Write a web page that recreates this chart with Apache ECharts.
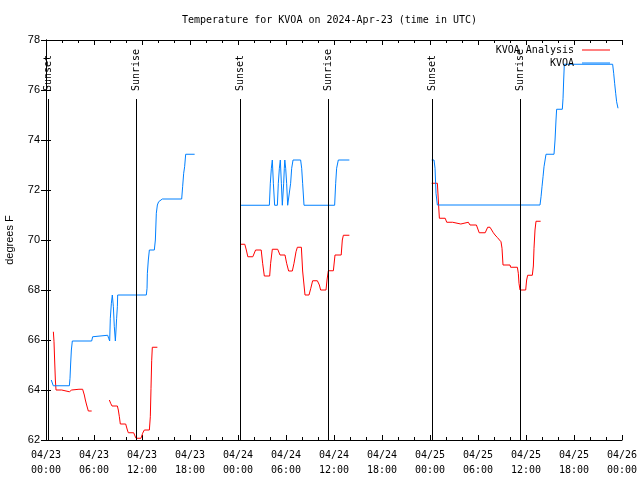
<!DOCTYPE html>
<html><head><meta charset="utf-8">
<script src="https://cdn.jsdelivr.net/npm/echarts@6/dist/echarts.min.js"></script>
<style>html,body{margin:0;padding:0;background:#fff}#c{width:640px;height:480px}</style>
</head><body><div id="c"></div>
<script>
// ---- data (hours since 04/23 00:00 UTC, temperature in F) ----
const tickDates = ['04/23','04/23','04/23','04/23','04/24','04/24','04/24','04/24','04/25','04/25','04/25','04/25','04/26'];
const tickTimes = ['00:00','06:00','12:00','18:00','00:00','06:00','12:00','18:00','00:00','06:00','12:00','18:00','00:00'];
const sunsetHours = [0.3, 24.33, 48.3];
const sunriseHours = [11.28, 35.27, 59.25];

const obsDay1 = [[0.66,64.4],[0.91,64.17],[2.92,64.17],[3.0,64.47],[3.08,65.04],[3.17,65.6],[3.29,65.96],[5.71,65.96],[5.83,66.13],[5.96,66.19],[7.71,66.19],[7.83,66.07],[7.96,65.96],[8.04,66.87],[8.17,67.47],[8.29,67.8],[8.42,67.33],[8.54,66.53],[8.67,65.96],[8.75,66.4],[8.83,66.87],[8.92,67.33],[8.96,67.8],[12.54,67.8],[12.63,68.07],[12.67,68.67],[12.79,69.2],[12.92,69.6],[13.54,69.6],[13.67,70.0],[13.79,71.07],[13.92,71.4],[14.08,71.53],[14.54,71.64],[16.96,71.64],[17.08,72.13],[17.21,72.67],[17.33,72.93],[17.46,73.43],[18.58,73.43]];
const obsDay2 = [[24.33,71.39],[27.92,71.39],[28.04,72.27],[28.17,72.87],[28.29,73.2],[28.42,72.27],[28.58,71.39],[28.92,71.39],[29.04,72.27],[29.17,72.87],[29.29,73.2],[29.42,72.27],[29.54,71.39],[29.6,71.39],[29.71,72.27],[29.79,72.87],[29.85,73.2],[29.96,72.87],[30.08,72.27],[30.21,71.39],[30.46,71.39],[30.58,72.27],[30.71,72.87],[30.88,73.2],[31.83,73.2],[31.96,72.87],[32.08,72.27],[32.25,71.39],[36.08,71.39],[36.21,72.27],[36.33,72.87],[36.54,73.2],[37.92,73.2]];
const obsDay3 = [[48.21,73.2],[48.5,73.2],[48.63,72.87],[48.75,71.87],[48.92,71.4],[61.75,71.4],[61.88,71.73],[62.0,72.13],[62.13,72.53],[62.25,72.93],[62.5,73.43],[63.5,73.43],[63.63,74.0],[63.75,74.8],[63.83,75.23],[64.54,75.23],[64.63,75.67],[64.71,76.4],[64.79,77.03],[70.83,77.03],[70.96,76.67],[71.08,76.27],[71.21,75.87],[71.33,75.53],[71.5,75.27]];

const anaDay1a = [[0.92,66.33],[1.0,65.93],[1.08,65.2],[1.17,64.4],[1.25,64.0],[1.96,64.0],[2.17,63.93],[2.92,63.93],[3.21,64.0],[4.12,64.03],[4.58,64.03],[4.79,63.8],[4.92,63.6],[5.08,63.4],[5.29,63.16],[5.71,63.16]];
const anaDay1b = [[7.92,63.6],[8.08,63.47],[8.25,63.36],[8.92,63.36],[9.04,63.2],[9.17,62.93],[9.29,62.64],[9.96,62.64],[10.17,62.4],[10.29,62.29],[10.96,62.29],[11.125,62.16],[11.25,62.07],[11.875,62.07],[12.08,62.27],[12.29,62.4],[12.92,62.4],[13.04,62.93],[13.125,64.07],[13.21,65.17],[13.29,65.71],[13.92,65.71]];
const anaDay2 = [[24.33,69.83],[24.85,69.83],[25.04,69.6],[25.23,69.33],[25.85,69.33],[26.2,69.6],[26.9,69.6],[27.08,69.07],[27.29,68.56],[27.96,68.56],[28.08,69.07],[28.29,69.63],[28.96,69.63],[29.25,69.4],[29.875,69.4],[30.08,69.07],[30.33,68.76],[30.79,68.76],[31.0,69.07],[31.25,69.53],[31.42,69.71],[31.92,69.71],[32.08,68.76],[32.25,68.2],[32.375,67.8],[32.875,67.8],[33.1,68.07],[33.33,68.37],[33.92,68.37],[34.17,68.2],[34.33,68.0],[35.0,68.0],[35.125,68.4],[35.29,68.77],[35.92,68.77],[36.125,69.4],[36.9,69.4],[37.04,70.0],[37.17,70.19],[37.92,70.19]];
const anaDay3 = [[48.21,72.27],[48.92,72.27],[49.04,71.6],[49.17,70.87],[49.9,70.87],[50.09,70.71],[50.83,70.71],[51.04,70.64],[51.85,70.64],[52.04,70.71],[52.79,70.71],[53.0,70.6],[53.8,70.6],[54.15,70.29],[54.9,70.29],[55.21,70.51],[55.5,70.51],[55.71,70.4],[55.92,70.29],[56.13,70.2],[56.42,70.1],[56.67,70.03],[56.875,69.93],[57.0,69.67],[57.125,69.0],[58.0,69.0],[58.08,68.91],[58.92,68.91],[59.04,68.67],[59.125,68.27],[59.25,68.0],[59.96,68.0],[60.08,68.4],[60.21,68.59],[60.79,68.59],[60.92,68.96],[61.0,69.67],[61.125,70.4],[61.25,70.75],[61.83,70.75]];

// ---- build ----
const mono = 'DejaVu Sans Mono';
const sans = 'Liberation Sans';
function joinWithGaps(parts){
  const out = [];
  parts.forEach((p, i) => {
    if (i > 0) out.push([(parts[i-1][parts[i-1].length-1][0] + p[0][0]) / 2, null]);
    p.forEach(d => out.push(d));
  });
  return out;
}
const obsData = joinWithGaps([obsDay1, obsDay2, obsDay3]);
const anaData = joinWithGaps([anaDay1a, anaDay1b, anaDay2, anaDay3]);

const sunLines = [];
const sunLabels = [];
sunsetHours.forEach(h => { sunLines.push([{coord:[h,62]},{coord:[h,75.64]}]); sunLabels.push({coord:[h,75.92], name:'Sunset'}); });
sunriseHours.forEach(h => { sunLines.push([{coord:[h,62]},{coord:[h,75.64]}]); sunLabels.push({coord:[h,75.92], name:'Sunrise'}); });

const black = '#000';
const xCommon = {
  type:'value', min:0, max:72, interval:6,
  axisLine:{show:true, lineStyle:{color:black, width:1}},
  axisTick:{show:true, inside:true, length:5, lineStyle:{color:black}},
  minorTick:{show:true, splitNumber:3, length:3, lineStyle:{color:black}},
  splitLine:{show:false}, minorSplitLine:{show:false}
};
const yCommon = {
  type:'value', min:62, max:78, interval:2,
  axisLine:{show:true, lineStyle:{color:black, width:1}},
  axisTick:{show:true, inside:true, length:5, lineStyle:{color:black}},
  splitLine:{show:false}
};

const chart = echarts.init(document.getElementById('c'), null, {renderer:'canvas'});
chart.setOption({
  animation:false,
  backgroundColor:'#fff',
  title:{text:'Temperature for KVOA on 2024-Apr-23 (time in UTC)', left:182, top:15, padding:0,
    textStyle:{fontFamily:mono, fontSize:10, fontWeight:'normal', color:black}},
  legend:[
    {data:['KVOA Analysis'], right:30, top:45, padding:0, align:'right', itemWidth:28, itemHeight:1, icon:'rect',
      textStyle:{fontFamily:mono, fontSize:10, color:black, padding:[0,3,0,0]}, selectedMode:false},
    {data:['KVOA'], right:30, top:58, padding:0, align:'right', itemWidth:28, itemHeight:1, icon:'rect',
      textStyle:{fontFamily:mono, fontSize:10, color:black, padding:[0,3,0,0]}, selectedMode:false}
  ],
  grid:{left:46, right:18, top:40, bottom:40, containLabel:false, outerBoundsMode:'none'},
  xAxis:[
    Object.assign({}, xCommon, {position:'bottom',
      axisLabel:{show:true, margin:8, fontFamily:mono, fontSize:10, color:black, lineHeight:15,
        formatter: v => { const i = Math.round(v/6); return tickDates[i] + '\n' + tickTimes[i]; }}}),
    Object.assign({}, xCommon, {position:'top', axisLabel:{show:false}})
  ],
  yAxis:[
    Object.assign({}, yCommon, {position:'left', name:'degrees F', nameLocation:'middle', nameGap:31, nameRotate:90,
      nameTextStyle:{fontFamily:sans, fontSize:11, color:black},
      axisLabel:{show:true, margin:6, fontFamily:sans, fontSize:11, color:black}}),
    Object.assign({}, yCommon, {position:'right', axisLabel:{show:false}})
  ],
  series:[
    {name:'KVOA Analysis', type:'line', data:anaData, showSymbol:false, symbol:'none', connectNulls:false,
      color:'#ff0000', lineStyle:{color:'#ff0000', width:1}, silent:true,
      markLine:{silent:true, symbol:['none','none'], label:{show:false}, lineStyle:{color:black, width:1, type:'solid'}, data:sunLines, animation:false},
      markPoint:{silent:true, symbol:'circle', symbolSize:0, data:sunLabels, animation:false,
        label:{show:true, formatter:'{b}', position:'inside', rotate:90, align:'left', verticalAlign:'middle', offset:[1,0], fontFamily:mono, fontSize:10, color:black}}},
    {name:'KVOA', type:'line', data:obsData, showSymbol:false, symbol:'none', connectNulls:false,
      color:'#0080ff', lineStyle:{color:'#0080ff', width:1}, silent:true}
  ]
});
</script></body></html>
